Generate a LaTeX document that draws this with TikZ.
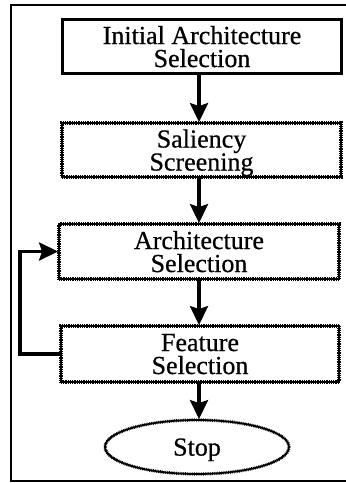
\documentclass[tikz,border=0pt]{standalone}
\usepackage{fontspec}
\setmainfont{Liberation Serif}[FakeBold=0.6]
\usetikzlibrary{arrows.meta,shapes.geometric}
\begin{document}
\begin{tikzpicture}[x=1pt,y=-1pt,
  lbl/.style={font=\fontsize{26pt}{23pt}\selectfont, align=center, inner sep=0pt, text depth=0pt},
  solidbox/.style={lbl, rectangle, draw=black, line width=3.2pt},
  roughbox/.style={lbl, draw=black, line width=1.8pt,
    postaction={draw=black, line width=3.2pt, dash pattern=on 0.7pt off 1.1pt}},
  conn/.style={line width=3.4pt, -{Stealth[length=19pt,width=18pt,inset=3pt]}}]
\useasboundingbox (0,0) rectangle (346,483);

% outer frame, open at the right
\draw[line width=2.6pt] (346,5) -- (11,5) -- (11,481) -- (346,481);

% column of arrows
\coordinate (ax) at (199,0);

\node[solidbox, minimum width=279pt, minimum height=54pt] (b1) at (202,46.5)
  {Initial Architecture\\Selection};
\node[roughbox, rectangle, minimum width=279pt, minimum height=54pt] (b2) at (201.5,150)
  {Saliency\\Screening};
\node[roughbox, rectangle, minimum width=280pt, minimum height=55pt] (b3) at (199,251.5)
  {Architecture\\Selection};
\node[roughbox, rectangle, minimum width=278pt, minimum height=56pt] (b4) at (200,354)
  {Feature\\Selection};
\node[roughbox, ellipse, minimum width=184pt, minimum height=54pt] (stop) at (197,447)
  {Stop};

\draw[conn] (b1.south -| ax) -- (b2.north -| ax);
\draw[conn] (b2.south -| ax) -- (b3.north -| ax);
\draw[conn] (b3.south -| ax) -- (b4.north -| ax);
\draw[conn] (b4.south -| ax) -- (stop.north -| ax);

% feedback from feature selection back to architecture selection
\draw[conn] (b4.west) -- ++(-40,0) |- (b3.west);
\end{tikzpicture}
\end{document}
